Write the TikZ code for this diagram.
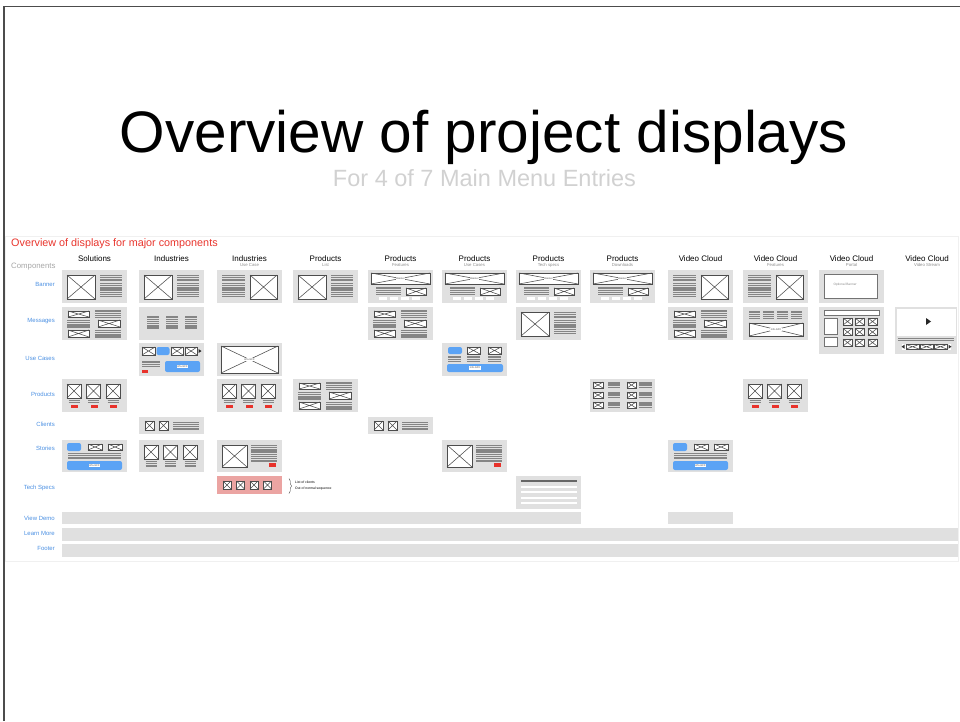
\documentclass[tikz,border=0pt]{standalone}
\usepackage{fontspec}
\setmainfont{Liberation Sans}
\usetikzlibrary{decorations.pathreplacing}

\definecolor{cellgray}{HTML}{E0E0E0}
\definecolor{labblue}{HTML}{4A8FE2}
\definecolor{btnblue}{HTML}{5BA3F5}
\definecolor{flagred}{HTML}{E8322B}
\definecolor{specpink}{HTML}{EBA4A2}
\definecolor{titlered}{HTML}{E8342C}

\tikzset{
  cell/.style={fill=cellgray, inner sep=0pt, minimum width=65pt, minimum height=33pt},
  phs/.style={draw=black!70, line width=0.55pt},
  txl/.style={draw=black!48, line width=1.4pt},
  btn/.style={fill=btnblue, rounded corners=2pt},
  flag/.style={fill=flagred},
  wbox/.style={fill=white, draw=black!55, line width=0.5pt},
  tinylab/.style={fill=white, inner sep=0.6pt, font=\fontsize{2.6}{3}\selectfont, text=black!70},
  rowlab/.style={anchor=east, inner sep=0pt, text=labblue, font=\fontsize{6}{7}\selectfont},
  colhead/.style={inner sep=0pt, font=\fontsize{8}{9}\selectfont},
  colsub/.style={inner sep=0pt, font=\fontsize{4.3}{5}\selectfont, text=black!45},
  bar/.style={fill=cellgray, inner sep=0pt, anchor=north west},
}

% wireframe pieces, local coordinates of a cell
\newcommand\wfimg[4]{\draw[phs,fill=white] (#1,#2) rectangle (#3,#4);
  \draw[phs] (#1,#2) -- (#3,#4) (#1,#4) -- (#3,#2);}
\newcommand\wftext[4]{\foreach \k in {1,...,#4}
  \draw[txl] (#1,{#3+2.2*(\k-1)}) -- (#2,{#3+2.2*(\k-1)});}
\newcommand\wfcell[5][]{\node[cell,anchor=north west,#1] (#2) at (#3,#4) {};
  \begin{scope}[shift={(#3,#4)}]#5\end{scope}}

\newcommand\imgleft{\wfimg{5}{5}{33}{29}\wftext{38}{60}{5.5}{3}\wftext{38}{60}{13.5}{7}}
\newcommand\imgright{\wftext{5}{28}{5.5}{3}\wftext{5}{28}{13.5}{7}\wfimg{33}{5}{60}{29}}
\newcommand\prodbanner{\wfimg{3}{3}{62}{14}\node[tinylab] at (32.5,8.5) {Banner};
  \wftext{8}{33}{18}{4}\wfimg{38}{18}{58}{25}
  \foreach \p in {11,22,33,44} \fill[white] (\p,27) rectangle ++(8,3);}
\newcommand\mixgrid{\wfimg{6}{4}{27}{10}\wftext{5}{28}{13.5}{4}\wfimg{6}{23}{27}{30}
  \wftext{33}{59}{4}{4}\wfimg{36}{13}{58}{20}\wftext{33}{59}{23.5}{4}}
\newcommand\threeimgs[1]{\foreach \a in {5,24.5,44} {\wfimg{\a}{5}{\a+14}{19}
  \wftext{\a+1.5}{\a+12.5}{21.5}{#1}}}
\newcommand\threeflags{\foreach \a in {5,24.5,44} \fill[flag] (\a+4,26) rectangle ++(7,3);}
\newcommand\bluestory{\fill[btn] (5,3) rectangle (19,11);
  \wfimg{26}{4}{40}{10}\wfimg{46}{4}{60}{10}
  \wftext{6}{59}{13.5}{3}
  \fill[btn] (5,21) rectangle (60,30);\node[tinylab] at (32.5,25.5) {info-GFX};}
\newcommand\imgtextflag{\wfimg{5}{5}{30}{27}\wftext{34}{60}{5.5}{8}
  \fill[flag] (52,23) rectangle (59,27);}

\begin{document}
\begin{tikzpicture}[x=1pt,y=-1pt]
\useasboundingbox (0,0) rectangle (960,721);
% slide
\draw[black!70,line width=1.5pt] (4.2,721) -- (4.2,6.5) -- (960,6.5);
\node[font=\fontsize{58.5}{60}\selectfont, anchor=base] (title) at (484,152) {Overview of project displays};
\node[font=\fontsize{23.5}{25}\selectfont, text=black!18, anchor=base] (subtitle) at (484.5,186) {For 4 of 7 Main Menu Entries};

% sheet
\draw[black!6] (5,236) rectangle (958,561);
\node[anchor=base west, inner sep=0pt, text=titlered, font=\fontsize{10.8}{12}\selectfont] (sheet) at (11,246) {Overview of displays for major components};
\node[anchor=west, inner sep=0pt, text=black!35, font=\fontsize{7.8}{9}\selectfont] (comp) at (11,267) {Components};

\foreach \cx/\ttl [count=\i] in {94.5/Solutions, 171.5/Industries, 249.5/Industries, 325.5/Products,
    400.5/Products, 474.5/Products, 548.5/Products, 622.5/Products, 700.5/Video Cloud,
    775.5/Video Cloud, 851.5/Video Cloud, 927/Video Cloud}
  \node[colhead] (head\i) at (\cx,259) {\ttl};
\foreach \cx/\sub [count=\i from 3] in {249.5/Use Case, 325.5/List, 400.5/Features, 474.5/Use Cases,
    548.5/Tech specs, 622.5/Downloads}
  \node[colsub] (sub\i) at (\cx,265) {\sub};
\foreach \cx/\sub [count=\i from 10] in {775.5/Features, 851.5/Portal, 927/Video Stream}
  \node[colsub] (sub\i) at (\cx,265) {\sub};

\foreach \ry/\rl [count=\i] in {284/Banner, 321/Messages, 358/Use Cases, 394/Products, 424/Clients,
    448/Stories, 488/Tech Specs, 518/View Demo, 533/Learn More, 548/Footer}
  \node[rowlab] (row\i) at (55,\ry) {\rl};

% banner
\wfcell{sol-banner}{62}{270}{\imgleft}
\wfcell{ind-banner}{139}{270}{\imgleft}
\wfcell{induc-banner}{217}{270}{\imgright}
\wfcell{plist-banner}{293}{270}{\imgleft}
\wfcell{pfeat-banner}{368}{270}{\prodbanner}
\wfcell{puc-banner}{442}{270}{\prodbanner}
\wfcell{ptech-banner}{516}{270}{\prodbanner}
\wfcell{pdl-banner}{590}{270}{\prodbanner}
\wfcell{vc-banner}{668}{270}{\imgright}
\wfcell{vcfeat-banner}{743}{270}{\imgright}
\wfcell{portal-banner}{819}{270}{\draw[wbox] (5,4) rectangle (58,28);
  \node[anchor=west, text=black!45, font=\fontsize{3.2}{4}\selectfont] at (11,15) {Optional Banner};}

% messages
\wfcell{sol-msg}{62}{307}{\mixgrid}
\wfcell{ind-msg}{139}{307}{\foreach \a in {8,27,46} {\wftext{\a}{\a+12}{10}{6}}}
\wfcell{pfeat-msg}{368}{307}{\mixgrid}
\wfcell{ptech-msg}{516}{307}{\imgleft}
\wfcell{vc-msg}{668}{307}{\mixgrid}
\wfcell{vcfeat-msg}{743}{307}{\foreach \a in {6,20,34,48} {\wftext{\a}{\a+11}{5}{4}}
  \wfimg{6}{16}{60}{29}\node[tinylab] at (33,22.5) {info-GFX};}
\wfcell[minimum height=47pt]{portal-msg}{819}{307}{\draw[wbox] (5,3) rectangle (60,8);
  \draw[wbox] (5,11) rectangle (18,27);\draw[wbox] (5,30) rectangle (18,39);
  \foreach \a in {24,36,49} {\foreach \r in {11,21.5,32} {\wfimg{\a}{\r}{\a+9}{\r+7}}}}
\wfcell[minimum height=47pt, minimum width=62pt]{stream-msg}{895}{307}{\fill[white] (1.5,1.5) rectangle (60.5,28.5);
  \fill[black!85] (31,11) -- (36,14.5) -- (31,18) -- cycle;
  \draw[txl] (3,31.5) -- (59,31.5) (3,33.5) -- (59,33.5);
  \fill[white] (7,36.5) rectangle (56,43);
  \fill[black!80] (6.5,39.7) -- (9.5,37.7) -- (9.5,41.7) -- cycle;
  \fill[black!80] (56.5,39.7) -- (53.5,37.7) -- (53.5,41.7) -- cycle;
  \foreach \a in {11,25,39} {\wfimg{\a}{37.5}{\a+13}{42}}}

% use cases
\wfcell{ind-uc}{139}{343}{\wfimg{3}{4}{16}{12}\fill[btn] (17.5,4) rectangle (30.5,12);
  \wfimg{32}{4}{44}{12}\wfimg{46}{4}{58}{12}
  \fill[black!85] (59.5,6) -- (62.5,8) -- (59.5,10) -- cycle;
  \wftext{3}{21}{19}{3}\fill[flag] (3,27) rectangle (9,30);
  \fill[btn] (26,18) rectangle (61,29);\node[tinylab] at (43.5,23.5) {info-GFX};}
\wfcell{induc-uc}{217}{343}{\wfimg{4}{3}{61}{30}\node[tinylab] at (32.5,16.5) {info-GFX};}
\wfcell{puc-uc}{442}{343}{\fill[btn] (6,4) rectangle (20,11);
  \wfimg{25}{4}{38}{11}\wfimg{46}{4}{59}{11}
  \foreach \a in {6,25,46} {\wftext{\a}{\a+13}{14}{3}}
  \fill[btn] (5,21) rectangle (61,29);\node[tinylab] at (33,25) {info-GFX};}

% products
\wfcell{sol-prod}{62}{379}{\threeimgs{2}\threeflags}
\wfcell{induc-prod}{217}{379}{\threeimgs{2}\threeflags}
\wfcell{plist-prod}{293}{379}{\mixgrid}
\wfcell{pdl-prod}{590}{379}{\foreach \r in {3,13,23} {\wfimg{3}{\r}{13}{\r+6}
  \wftext{18}{30}{\r+0.8}{3}\wfimg{37}{\r}{46}{\r+6}\wftext{49}{62}{\r+0.8}{3}}}
\wfcell{vcfeat-prod}{743}{379}{\threeimgs{2}\threeflags}

% clients
\wfcell[minimum height=17pt]{ind-cli}{139}{417}{\wfimg{6}{4}{15}{13}\wfimg{20}{4}{29}{13}\wftext{34}{60}{5.2}{4}}
\wfcell[minimum height=17pt]{pfeat-cli}{368}{417}{\wfimg{6}{4}{15}{13}\wfimg{20}{4}{29}{13}\wftext{34}{60}{5.2}{4}}

% stories
\wfcell[minimum height=32pt]{sol-story}{62}{440}{\bluestory}
\wfcell[minimum height=32pt]{ind-story}{139}{440}{\threeimgs{3}}
\wfcell[minimum height=32pt]{induc-story}{217}{440}{\imgtextflag}
\wfcell[minimum height=32pt]{puc-story}{442}{440}{\imgtextflag}
\wfcell[minimum height=32pt]{vc-story}{668}{440}{\bluestory}

% tech specs
\wfcell[minimum height=18pt, fill=specpink]{induc-spec}{217}{476}{\foreach \a in {6,19.5,33,46.5} {\wfimg{\a}{5}{\a+8}{13}}}
\wfcell{ptech-spec}{516}{476}{\draw[black!60, line width=1.4pt] (5,5) -- (61,5);
  \foreach \r in {10.5,16,21.5,27} \fill[white] (5,\r-1) rectangle (61,\r+1);}
\draw[decorate, decoration={brace, amplitude=2.5pt}, black!80, line width=0.4pt] (289,478.5) -- (289,493.5);
\node[anchor=west, inner sep=0pt, font=\fontsize{3.4}{4}\selectfont] (note1) at (295,482) {List of clients};
\node[anchor=west, inner sep=0pt, font=\fontsize{3.4}{4}\selectfont] (note2) at (295,488.5) {Out of normal sequence};

% bars
\node[bar, minimum width=519pt, minimum height=12pt] (demo-a) at (62,512) {};
\node[bar, minimum width=65pt, minimum height=12pt] (demo-b) at (668,512) {};
\node[bar, minimum width=896pt, minimum height=13pt] (more) at (62,528) {};
\node[bar, minimum width=896pt, minimum height=13pt] (footer) at (62,544) {};
\end{tikzpicture}
\end{document}
